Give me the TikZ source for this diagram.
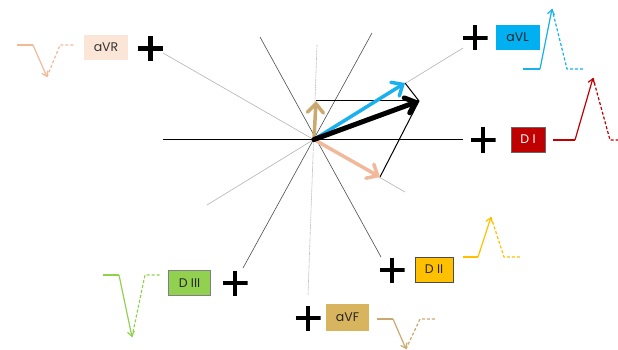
\documentclass[tikz,border=0pt]{standalone}
\usepackage{fontspec}
\setmainfont{Poppins}
\usetikzlibrary{arrows.meta}
\definecolor{rcol}{HTML}{F2B89A}
\definecolor{rbox}{HTML}{FBE5D6}
\definecolor{lcol}{HTML}{1AB0EE}
\definecolor{lbox}{HTML}{00B0F0}
\definecolor{icol}{HTML}{C00000}
\definecolor{iicol}{HTML}{FFC000}
\definecolor{iiicol}{HTML}{92D050}
\definecolor{fcol}{HTML}{C9A96E}
\definecolor{fbox}{HTML}{D9B45E}
\tikzset{
  lead/.style={minimum width=44pt, minimum height=25pt, inner sep=0pt, font=\fontsize{12.5}{14}\selectfont},
  plussign/.style={minimum size=25pt, inner sep=0pt,
    path picture={\draw[line width=4.6pt]
      (path picture bounding box.west) -- (path picture bounding box.east)
      (path picture bounding box.north) -- (path picture bounding box.south);}},
  axis/.style={line width=0.6pt, gray},
  vec/.style={line width=3.5pt, line cap=round, -{Straight Barb[length=9pt, width=16pt, line cap=round]}},
  proj/.style={line width=1pt, black},
  wave/.style={line width=1.2pt},
  wavetip/.style={wave, -{Straight Barb[length=4.5pt, width=7pt]}},
  wavedash/.style={wave, dashed, dash pattern=on 3pt off 2pt},
}
\begin{document}
\begin{tikzpicture}[x=1pt, y=-1pt]
\useasboundingbox (0,0) rectangle (618,350);

% hexaxial reference lines
\coordinate (O) at (314,139.5);
\coordinate (hL) at (163,139.5);
\coordinate (hR) at (463,139.5);
\coordinate (rA) at (163,53);
\coordinate (rB) at (405,192);
\coordinate (lA) at (463,48);
\coordinate (lB) at (207,205);
\coordinate (iiA) at (260,37);
\coordinate (iiB) at (381,257);
\coordinate (iiiA) at (372,33);
\coordinate (iiiB) at (243,268);
\coordinate (fA) at (317,45);
\coordinate (fB) at (308,295);

\draw[axis, gray!60] (rA) -- (rB);
\draw[axis, gray!60] (lA) -- (lB);
\draw[axis, black!70] (iiA) -- (iiB);
\draw[axis, black!70] (iiiA) -- (iiiB);
\draw[axis, gray!50, dash pattern=on 2pt off 0.6pt] (fA) -- (fB);
\draw[line width=0.8pt, black] (hL) -- (hR);

% vector tips and their construction lines
\coordinate (tF) at (316,101);
\coordinate (tL) at (405,83);
\coordinate (tAx) at (419,101);
\coordinate (tR) at (380,177);
\draw[proj] (tF) -- (tAx);
\draw[proj] (tL) -- (tAx);
\draw[proj] (tAx) -- (tR);

\draw[vec, fcol] (O) -- (tF);
\draw[vec, rcol] (O) -- (tR);
\draw[vec, lcol] (O) -- (tL);
\draw[vec, black, line width=5pt] (O) -- (tAx);

% lead labels and positive poles
\node[lead, fill=rbox, text=black!80] (aVR) at (106,47.5) {aVR};
\node[plussign] (pR) at (150.5,48.5) {};
\node[plussign] (pL) at (475,38) {};
\node[lead, fill=lbox, text=black!85] (aVL) at (517.5,37.5) {aVL};
\node[plussign] (pI) at (483,140) {};
\node[lead, fill=icol, draw=black!60, line width=0.6pt, text=white, minimum width=34pt] (DI) at (528,139.5) {D I};
\node[plussign] (pII) at (392,270) {};
\node[lead, fill=iicol, draw=black!70, line width=0.6pt, text=black!85, minimum width=38pt] (DII) at (434,269.5) {D II};
\node[lead, fill=iiicol, draw=black!50, line width=0.6pt, text=black!85, minimum width=42pt] (DIII) at (189.5,283) {D III};
\node[plussign] (pIII) at (235,283) {};
\node[plussign] (pF) at (308,318) {};
\node[lead, fill=fbox, text=black!85, minimum width=43pt, minimum height=27pt] (aVF) at (347.5,317.5) {aVF};

% aVR complex
\draw[wave, rcol] (17,45) -- (33,45);
\draw[wavetip, rcol] (33,45) -- (47,77);
\draw[wavedash, rcol] (47,77) -- (60,45) -- (75,45);
% aVL complex
\draw[wave, lcol] (523,69) -- (540,69);
\draw[wavetip, lcol] (540,69) -- (552,9);
\draw[wavedash, lcol] (552,9) -- (567,69) -- (584,69);
% D I complex
\draw[wave, icol] (553,140) -- (575,140);
\draw[wavetip, icol] (575,140) -- (593,78);
\draw[wavedash, icol] (593,78) -- (610,140) -- (618,140);
% D II complex
\draw[wave, iicol] (463,257) -- (478,257);
\draw[wavetip, iicol] (478,257) -- (491,217);
\draw[wavedash, iicol] (491,217) -- (504,257) -- (520,257);
% D III complex
\draw[wave, iiicol] (103,275) -- (119,275);
\draw[wavetip, iiicol] (119,275) -- (132,337);
\draw[wavedash, iiicol] (132,337) -- (145,275) -- (160,275);
% aVF complex
\draw[wave, fcol] (377,319) -- (393,319);
\draw[wavetip, fcol] (393,319) -- (406,349);
\draw[wavedash, fcol] (406,349) -- (420,319) -- (435,319);
\end{tikzpicture}
\end{document}
